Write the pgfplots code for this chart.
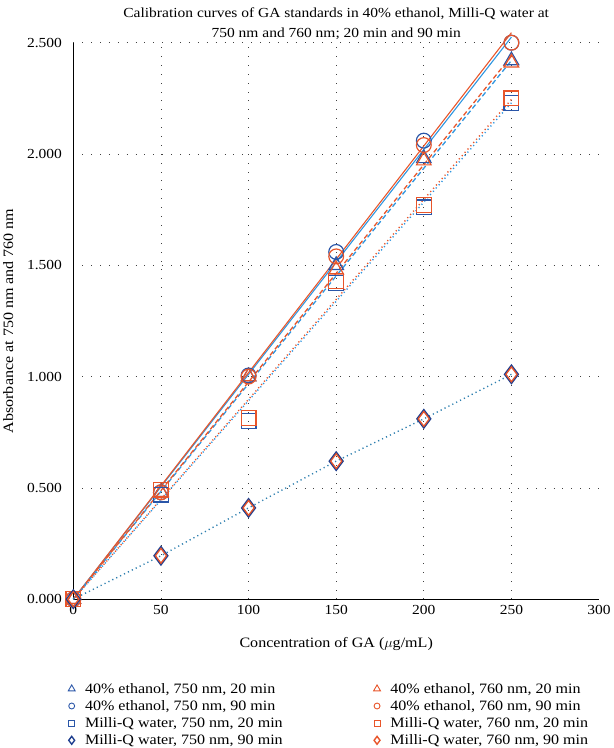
\documentclass[border=0pt]{standalone}
\usepackage{pgfplots}
\pgfplotsset{compat=1.18}
\usepackage{fontspec}
\setmainfont[FakeStretch=1.12]{Liberation Serif}
\definecolor{mblue}{HTML}{2A56A8}
\definecolor{morange}{HTML}{E8552A}
\definecolor{lblue}{HTML}{2E96E0}
\definecolor{tealb}{HTML}{2D7FAF}
\definecolor{navy}{HTML}{1F3F8F}
\begin{document}
\begin{tikzpicture}
\begin{axis}[
  scale only axis,
  width=530bp, height=561bp,
  xmin=0, xmax=300, ymin=0, ymax=2.5,
  xtick={0,50,100,150,200,250},
  extra x ticks={300},
  extra x tick style={grid=none},
  ytick={0,0.5,1,1.5,2,2.5},
  axis lines=left,
  axis line style={-, black, line width=0.9pt},
  major tick length=0pt,
  grid=major,
  major grid style={black!75, line width=0.7pt, dash pattern=on 0.7pt off 8.3pt},
  yticklabel style={/pgf/number format/fixed, /pgf/number format/fixed zerofill, /pgf/number format/precision=3},
  /pgf/number format/assume math mode=true,
  tick label style={font=\fontsize{14}{16}\selectfont},
  xticklabel style={yshift=-3pt},
  yticklabel style={xshift=-8pt},
  label style={font=\fontsize{14.5}{17}\selectfont},
  xlabel style={yshift=-16pt},
  ylabel style={yshift=7pt},
  xlabel={Concentration of GA ($\mu$g/mL)},
  ylabel={Absorbance at 750 nm and 760 nm},
  title={Calibration curves of GA standards in 40\% ethanol, Milli-Q water at\\750 nm and 760 nm; 20 min and 90 min},
  title style={align=center, font=\fontsize{14}{20}\selectfont, inner ysep=8pt, yshift=-11pt},
  clip=false,
  legend columns=2,
  legend cell align=left,
  legend style={draw=none, fill=none, at={(-0.01,-0.147)}, anchor=north west,
    font=\fontsize{14.5}{17}\selectfont, row sep=1.8pt, inner sep=0pt,
    /tikz/every odd column/.append style={column sep=8pt},
    /tikz/every even column/.append style={column sep=90pt}},
]
% trendlines
\addplot[forget plot, lblue, line width=1.1pt] coordinates {(0,0) (250,2.525)};
\addplot[forget plot, morange, line width=1.1pt] coordinates {(0,0) (250,2.545)};
\addplot[forget plot, lblue, line width=1.3pt, dash pattern=on 5pt off 3pt] coordinates {(0,0) (250,2.42)};
\addplot[forget plot, morange, line width=1.3pt, dash pattern=on 5pt off 3pt, dash phase=3pt] coordinates {(0,0) (250,2.44)};
\addplot[forget plot, lblue, line width=1.4pt, dash pattern=on 1.2pt off 3.2pt] coordinates {(0,0) (250,2.23)};
\addplot[forget plot, morange, line width=1.4pt, dash pattern=on 1.2pt off 3.2pt, dash phase=2pt] coordinates {(0,0) (250,2.245)};
\addplot[forget plot, tealb, line width=1.4pt, dash pattern=on 1.2pt off 3.2pt] coordinates {(0,0) (50,0.195) (100,0.41) (150,0.62) (200,0.81) (250,1.01)};
% markers
\addplot[only marks, mblue, mark=triangle, mark size=8.5pt, mark options={line width=1.2pt}, legend image post style={mark size=4pt, mark options={line width=0.9pt}}]
  coordinates {(0,0) (50,0.48) (100,1.0) (150,1.50) (200,1.98) (250,2.42)};
\addlegendentry{40\% ethanol, 750 nm, 20 min}
\addplot[only marks, morange, mark=triangle, mark size=8.5pt, mark options={line width=1.2pt}, legend image post style={mark size=4pt, mark options={line width=0.9pt}}]
  coordinates {(0,0) (50,0.48) (100,1.0) (150,1.48) (200,1.97) (250,2.41)};
\addlegendentry{40\% ethanol, 760 nm, 20 min}
\addplot[only marks, mblue, mark=o, mark size=7.5pt, mark options={line width=1.2pt}, legend image post style={mark size=3pt, mark options={line width=0.9pt}}]
  coordinates {(0,0) (50,0.48) (100,1.005) (150,1.56) (200,2.06) (250,2.50)};
\addlegendentry{40\% ethanol, 750 nm, 90 min}
\addplot[only marks, morange, mark=o, mark size=7.5pt, mark options={line width=1.2pt}, legend image post style={mark size=3pt, mark options={line width=0.9pt}}]
  coordinates {(0,0) (50,0.48) (100,1.0) (150,1.54) (200,2.04) (250,2.50)};
\addlegendentry{40\% ethanol, 760 nm, 90 min}
\addplot[only marks, mblue, mark=square, mark size=7.5pt, mark options={line width=1.2pt}, legend image post style={mark size=3pt, mark options={line width=0.9pt}}]
  coordinates {(0,0) (50,0.47) (100,0.80) (150,1.42) (200,1.76) (250,2.23)};
\addlegendentry{Milli-Q water, 750 nm, 20 min}
\addplot[only marks, morange, mark=square, mark size=7.5pt, mark options={line width=1.2pt}, legend image post style={mark size=3pt, mark options={line width=0.9pt}}]
  coordinates {(0,0) (50,0.49) (100,0.815) (150,1.43) (200,1.77) (250,2.25)};
\addlegendentry{Milli-Q water, 760 nm, 20 min}
\addplot[only marks, navy, mark=diamond, mark size=9pt, mark options={line width=1.8pt}, legend image post style={mark size=4pt, mark options={line width=1.4pt}}]
  coordinates {(0,0) (50,0.195) (100,0.41) (150,0.62) (200,0.81) (250,1.01)};
\addlegendentry{Milli-Q water, 750 nm, 90 min}
\addplot[only marks, morange, mark=diamond, mark size=7.5pt, mark options={line width=1.3pt}, legend image post style={mark size=4pt, mark options={line width=1.4pt}}]
  coordinates {(0,0) (50,0.195) (100,0.41) (150,0.62) (200,0.81) (250,1.01)};
\addlegendentry{Milli-Q water, 760 nm, 90 min}
\end{axis}
\end{tikzpicture}
\end{document}
